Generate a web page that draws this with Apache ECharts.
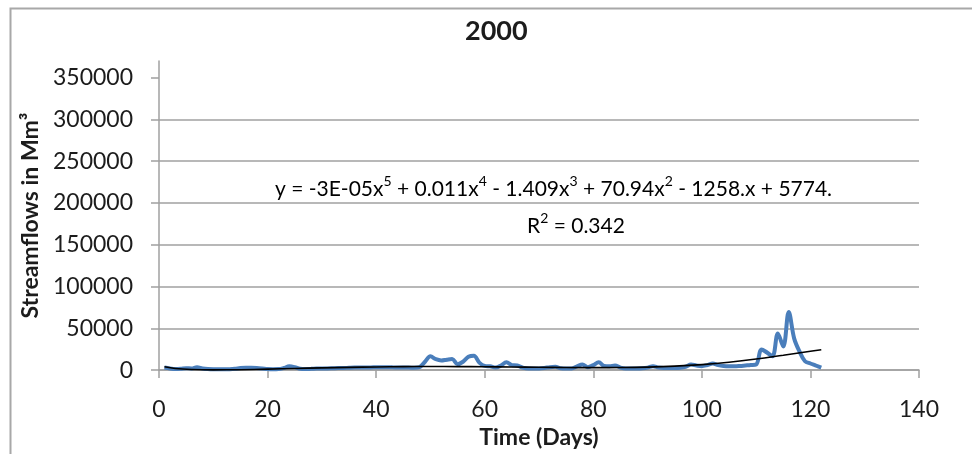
<!DOCTYPE html>
<html>
<head>
<meta charset="utf-8">
<script src="https://cdn.jsdelivr.net/npm/echarts@6/dist/echarts.min.js"></script>
<style>
  html, body { margin: 0; padding: 0; background: #fff; }
  #chart { width: 972px; height: 454px; }
</style>
</head>
<body>
<div id="chart"></div>
<script>
// Daily streamflow for 2000, days 1..122 (Mm³)
const flowValues = [
  3000, 2000, 1200, 1500, 2200, 2000, 3500, 2000, 1200, 1000,
  1000, 900, 1000, 1500, 2500, 2800, 2800, 2600, 2000, 1200,
  1000, 1200, 2500, 4500, 3500, 1500, 1200, 1500, 1800, 2000,
  2000, 2200, 2500, 2500, 2800, 3000, 3000, 3200, 3200, 3500,
  3500, 3500, 3300, 3200, 3000, 3000, 2800, 3500, 10000, 16500,
  13000, 11500, 12500, 13300, 7000, 10000, 16000, 17300, 9000, 5000,
  4500, 3000, 5500, 9400, 6000, 5500, 3000, 2000, 2000, 2000,
  2500, 3500, 4000, 2200, 1800, 2000, 4500, 6700, 3500, 6000,
  9400, 5000, 4500, 5500, 3000, 2000, 2000, 2000, 2200, 3000,
  4700, 3000, 2500, 2500, 2500, 2800, 4000, 6700, 5500, 4700,
  6000, 7900, 6000, 5000, 4700, 4700, 5000, 5500, 6000, 6700,
  24800, 21000, 16500, 43900, 28300, 69500, 38000, 22000, 10600, 7900,
  5500, 3000
];
const firstDay = 1;

// Poly. (order 5) trendline, sampled along the day axis
const trendDays = [1, 3, 6, 10, 15, 20, 25, 30, 35, 40, 45, 50, 55, 60, 65, 70, 75, 80, 85, 90, 95, 100, 105, 110, 115, 120, 122];
const trendValues = [4000, 2000, 800, 300, 500, 1200, 2000, 2700, 3300, 3800, 4200, 4300, 4200, 4000, 3700, 3400, 3100, 3000, 3100, 3600, 4700, 6600, 9400, 13200, 17800, 22500, 24400];

const yTicks = [0, 50000, 100000, 150000, 200000, 250000, 300000, 350000];
const xTicks = [0, 20, 40, 60, 80, 100, 120, 140];

const titleText = '2000';
const xName = 'Time (Days)';
const yName = 'Streamflows in Mm³';

const flowData = flowValues.map((v, i) => [firstDay + i, v]);
const trendData = trendDays.map((d, i) => [d, trendValues[i]]);

const FONT = 'Lato';
const GRID_COLOR = '#a0a0a0';
const TEXT_COLOR = '#1c1c1c';

const chart = echarts.init(document.getElementById('chart'), null, { renderer: 'canvas' });

const eqRich = {
  n: { fontFamily: FONT, fontSize: 21, color: TEXT_COLOR, lineHeight: 26, verticalAlign: 'bottom' },
  s: { fontFamily: FONT, fontSize: 14, color: TEXT_COLOR, lineHeight: 26, verticalAlign: 'top' }
};

chart.setOption({
  animation: false,
  backgroundColor: '#ffffff',
  title: {
    text: titleText,
    left: 460,
    top: 13,
    textStyle: { fontFamily: FONT, fontWeight: 'bold', fontSize: 27, color: TEXT_COLOR }
  },
  grid: { left: 159, right: 53, top: 61, bottom: 80, containLabel: false },
  xAxis: {
    type: 'value',
    min: 0,
    max: 140,
    interval: 20,
    name: xName,
    nameLocation: 'middle',
    nameGap: 51,
    nameTextStyle: { fontFamily: FONT, fontWeight: 'bold', fontSize: 23, color: TEXT_COLOR },
    axisLine: { show: true, onZero: false, lineStyle: { color: GRID_COLOR, width: 1.5 } },
    axisTick: { show: true, inside: false, length: 8, lineStyle: { color: GRID_COLOR, width: 1.5 } },
    axisLabel: {
      margin: 28,
      fontFamily: FONT, fontSize: 23, color: TEXT_COLOR,
      customValues: xTicks
    },
    splitLine: { show: false }
  },
  yAxis: {
    type: 'value',
    min: 0,
    max: 370000,
    interval: 50000,
    name: yName,
    nameLocation: 'middle',
    nameGap: 116,
    nameRotate: 90,
    nameTextStyle: { fontFamily: FONT, fontWeight: 'bold', fontSize: 23, color: TEXT_COLOR },
    axisLine: { show: true, lineStyle: { color: GRID_COLOR, width: 1.5 } },
    axisTick: { show: true, inside: false, length: 8, lineStyle: { color: GRID_COLOR, width: 1.5 }, customValues: yTicks },
    axisLabel: {
      margin: 26,
      fontFamily: FONT, fontSize: 23, color: TEXT_COLOR,
      customValues: yTicks,
      formatter: (v) => String(v)
    },
    splitLine: { show: true, showMaxLine: false, lineStyle: { color: GRID_COLOR, width: 1.5 } }
  },
  series: [
    {
      name: 'Streamflow',
      type: 'line',
      data: flowData,
      smooth: 0.35,
      symbol: 'none',
      lineStyle: { color: '#4a7ebb', width: 4 },
      z: 2
    },
    {
      name: 'Poly. (Streamflow)',
      type: 'line',
      data: trendData,
      smooth: 0.4,
      symbol: 'none',
      lineStyle: { color: '#000000', width: 1.6 },
      z: 3
    }
  ],
  graphic: [
    {
      type: 'rect',
      left: 8, top: 6,
      shape: { width: 1000, height: 500 },
      style: { fill: 'none', stroke: '#a8a8a8', lineWidth: 2 },
      silent: true
    },
    {
      type: 'text',
      left: 275, top: 174,
      style: {
        text: '{n|y = -3E-05x}{s|5}{n| + 0.011x}{s|4}{n| - 1.409x}{s|3}{n| + 70.94x}{s|2}{n| - 1258.x + 5774.}',
        rich: eqRich
      }
    },
    {
      type: 'text',
      left: 527, top: 211,
      style: {
        text: '{n|R}{s|2}{n| = 0.342}',
        rich: eqRich
      }
    }
  ]
});
</script>
</body>
</html>
